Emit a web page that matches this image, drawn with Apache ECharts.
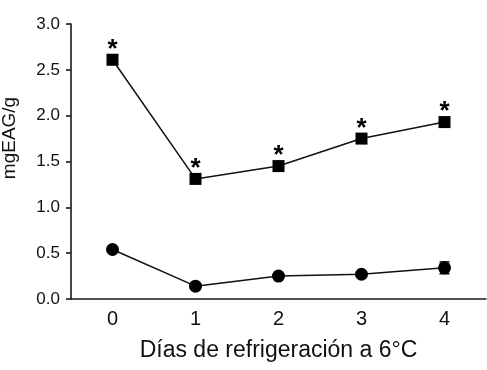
<!DOCTYPE html>
<html>
<head>
<meta charset="utf-8">
<script src="https://cdn.jsdelivr.net/npm/echarts@6/dist/echarts.min.js"></script>
<style>html,body{margin:0;padding:0;background:#fff}#c{width:487px;height:370px}</style>
</head>
<body>
<div id="c"></div>
<script>
var days = ['0', '1', '2', '3', '4'];
var yTicks = [0.0, 0.5, 1.0, 1.5, 2.0, 2.5, 3.0];
var squareValues = [2.61, 1.31, 1.45, 1.75, 1.93];
var squareErr = [0.02, 0.02, 0.02, 0.02, 0.02];
var circleValues = [0.54, 0.14, 0.25, 0.27, 0.34];
var circleErr = [0.02, 0.02, 0.02, 0.02, 0.065];
var starLabel = '*';
var xName = 'Días de refrigeración a 6°C';
var yName = 'mgEAG/g';

var FONT = 'Liberation Sans, Arial, sans-serif';
var chart = echarts.init(document.getElementById('c'), null, {renderer: 'canvas'});

function errSeries(vals, errs) {
  return {
    type: 'custom',
    z: 1,
    silent: true,
    data: vals.map(function (v, i) { return [i, v - errs[i], v + errs[i]]; }),
    renderItem: function (params, api) {
      var lo = api.coord([api.value(0), api.value(1)]);
      var hi = api.coord([api.value(0), api.value(2)]);
      var w = 5;
      var st = {stroke: '#111', lineWidth: 1.5};
      return {type: 'group', children: [
        {type: 'line', shape: {x1: lo[0], y1: lo[1], x2: hi[0], y2: hi[1]}, style: st},
        {type: 'line', shape: {x1: lo[0] - w, y1: lo[1], x2: lo[0] + w, y2: lo[1]}, style: st},
        {type: 'line', shape: {x1: hi[0] - w, y1: hi[1], x2: hi[0] + w, y2: hi[1]}, style: st}
      ]};
    }
  };
}

chart.setOption({
  animation: false,
  backgroundColor: '#fff',
  grid: {left: 71, right: 1, top: 24, bottom: 71},
  xAxis: {
    type: 'category',
    data: days,
    boundaryGap: true,
    axisLine: {lineStyle: {color: '#1a1a1a', width: 1.6}},
    axisTick: {alignWithLabel: true, length: 6, lineStyle: {color: '#1a1a1a', width: 1.6}},
    axisLabel: {fontFamily: FONT, fontSize: 20, color: '#111', margin: 10},
    splitLine: {show: false},
    name: xName,
    nameLocation: 'middle',
    nameGap: 40,
    nameTextStyle: {fontFamily: FONT, fontSize: 23, color: '#111'}
  },
  yAxis: {
    type: 'value',
    min: yTicks[0],
    max: yTicks[yTicks.length - 1],
    interval: 0.5,
    axisLine: {show: true, lineStyle: {color: '#1a1a1a', width: 1.6}},
    axisTick: {show: true, length: 5, lineStyle: {color: '#1a1a1a', width: 1.6}},
    axisLabel: {fontFamily: FONT, fontSize: 17, color: '#111', margin: 11,
      formatter: function (v) { return v.toFixed(1); }},
    splitLine: {show: false}
  },
  graphic: [{
    type: 'text',
    x: 10, y: 138,
    rotation: Math.PI / 2,
    style: {text: yName, fontFamily: FONT, fontSize: 19, fill: '#111',
      textAlign: 'center', textVerticalAlign: 'middle'}
  }],
  series: [
    errSeries(squareValues, squareErr),
    errSeries(circleValues, circleErr),
    {
      type: 'line',
      data: squareValues,
      symbol: 'rect',
      symbolSize: 12,
      z: 3,
      lineStyle: {color: '#111', width: 1.5},
      itemStyle: {color: '#000'},
      label: {show: true, position: 'top', distance: -9, formatter: starLabel,
        fontFamily: FONT, fontSize: 26, fontWeight: 'bold', color: '#000'}
    },
    {
      type: 'line',
      data: circleValues,
      symbol: 'circle',
      symbolSize: 13,
      z: 3,
      lineStyle: {color: '#111', width: 1.5},
      itemStyle: {color: '#000'}
    }
  ]
});
</script>
</body>
</html>
